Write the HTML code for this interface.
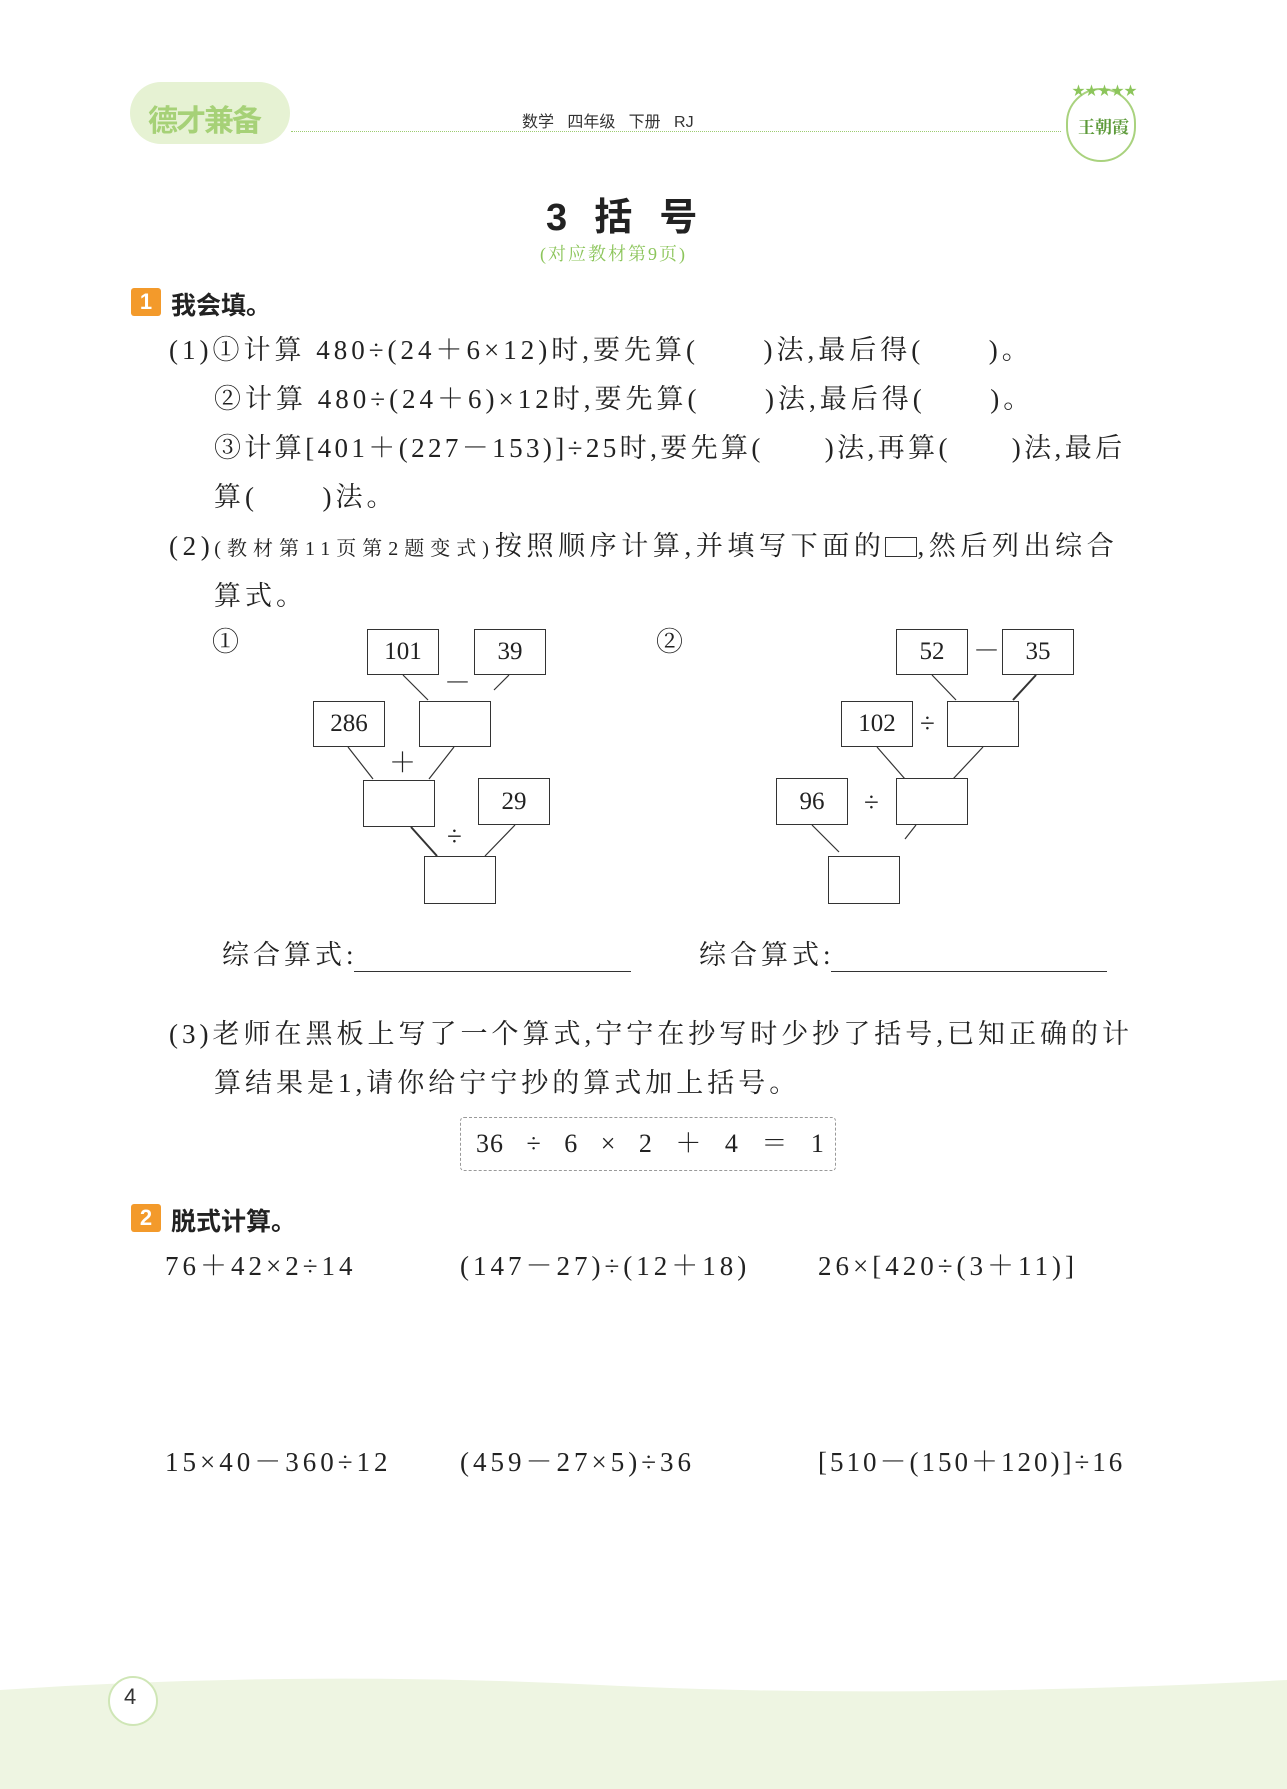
<!DOCTYPE html>
<html><head><meta charset="utf-8"><style>
body{margin:0;width:1287px;height:1789px;position:relative;background:#fff;overflow:hidden;font-family:"Liberation Serif","Noto Serif CJK SC",serif;color:#222}
.a{position:absolute;white-space:nowrap}
.t{font-size:27px;line-height:30px;letter-spacing:4px}
.box{position:absolute;border:1.3px solid #333;background:#fff;font-size:25px;text-align:center;box-sizing:border-box}
.sec{position:absolute;width:30px;height:28px;background:#f39a2b;color:#fff;font:bold 22px "Liberation Sans",sans-serif;text-align:center;line-height:28px;border-radius:3px}
.h{font-family:"Liberation Sans","Noto Sans CJK SC",sans-serif;font-weight:bold;font-size:25px}
</style></head><body>
<!-- header -->
<div class="a" style="left:130px;top:82px;width:160px;height:62px;border-radius:40px;background:#e6f2d3"></div>
<div class="a" style="left:148px;top:96px;font:bold 30px 'Noto Sans CJK SC',sans-serif;color:#a6d177;letter-spacing:-2px">德才兼备</div>
<div class="a" style="left:291px;top:131px;width:770px;border-top:1.5px dotted #9ccc70"></div>
<div class="a" style="left:522px;top:108px;font:16px 'Liberation Sans','Noto Sans CJK SC',sans-serif;color:#333">数学&nbsp;&nbsp;&nbsp;四年级&nbsp;&nbsp;&nbsp;下册&nbsp;&nbsp;&nbsp;RJ</div>
<div class="a" style="left:1066px;top:88px;width:70px;height:74px;border:2px solid #a9d27e;border-radius:35px;box-sizing:border-box"></div>
<div class="a" style="left:1072px;top:80px;font-size:13px;color:#8cc55b">★★★★★</div>
<div class="a" style="left:1078px;top:113px;font:bold 17px 'Noto Serif CJK SC',serif;color:#5d9a3a">王朝霞</div>
<!-- title -->
<div class="a" style="left:546px;top:186px;font:bold 38px 'Liberation Sans','Noto Sans CJK SC',sans-serif;letter-spacing:2px">3&nbsp;&nbsp;括&nbsp;&nbsp;号</div>
<div class="a" style="left:540px;top:240px;font-size:18px;color:#8cc55b;letter-spacing:2px">(对应教材第9页)</div>
<!-- section 1 -->
<div class="sec" style="left:131px;top:288px">1</div>
<div class="a h" style="left:171px;top:286px">我会填。</div>
<div class="a t" style="left:169px;top:335px">(1)①计算 480÷(24＋6×12)时,要先算(&nbsp;&nbsp;&nbsp;&nbsp;&nbsp;&nbsp;)法,最后得(&nbsp;&nbsp;&nbsp;&nbsp;&nbsp;&nbsp;)。</div>
<div class="a t" style="left:214px;top:384px">②计算 480÷(24＋6)×12时,要先算(&nbsp;&nbsp;&nbsp;&nbsp;&nbsp;&nbsp;)法,最后得(&nbsp;&nbsp;&nbsp;&nbsp;&nbsp;&nbsp;)。</div>
<div class="a t" style="left:214px;top:433px;letter-spacing:3.4px">③计算[401＋(227－153)]÷25时,要先算(&nbsp;&nbsp;&nbsp;&nbsp;&nbsp;&nbsp;)法,再算(&nbsp;&nbsp;&nbsp;&nbsp;&nbsp;&nbsp;)法,最后</div>
<div class="a t" style="left:214px;top:482px">算(&nbsp;&nbsp;&nbsp;&nbsp;&nbsp;&nbsp;)法。</div>
<div class="a t" style="left:169px;top:531px;letter-spacing:4.6px">(2)<span style="font-size:20px;letter-spacing:6px">(教材第11页第2题变式)</span>按照顺序计算,并填写下面的<span style="display:inline-block;width:30px;height:18px;border:1.5px solid #333;vertical-align:-2px"></span>,然后列出综合</div>
<div class="a t" style="left:214px;top:581px">算式。</div>
<!-- diagrams -->
<svg class="a" style="left:0;top:0" width="1287" height="1789">
<g stroke="#333" stroke-width="1.2" fill="none">
<line x1="403" y1="675" x2="428" y2="700"/><line x1="509" y1="675" x2="494" y2="690"/>
<line x1="348" y1="747" x2="373" y2="779"/><line x1="454" y1="747" x2="429" y2="779"/>
<line x1="411" y1="827" x2="437" y2="856" stroke-width="2"/><line x1="515" y1="825" x2="485" y2="856"/>
<line x1="932" y1="675" x2="956" y2="700"/><line x1="1036" y1="675" x2="1013" y2="700" stroke-width="2"/>
<line x1="877" y1="747" x2="905" y2="779"/><line x1="983" y1="747" x2="953" y2="779"/>
<line x1="812" y1="825" x2="839" y2="852"/><line x1="916" y1="825" x2="905" y2="839"/>
</g></svg>
<div class="a t" style="left:212px;top:627px">①</div>
<div class="a t" style="left:656px;top:627px">②</div>
<div class="box" style="left:367px;top:629px;width:72px;height:46px;line-height:44px">101</div>
<div class="box" style="left:474px;top:629px;width:72px;height:46px;line-height:44px">39</div>
<div class="a t" style="left:444px;top:668px">－</div>
<div class="box" style="left:313px;top:701px;width:72px;height:46px;line-height:44px">286</div>
<div class="box" style="left:419px;top:701px;width:72px;height:46px"></div>
<div class="a t" style="left:389px;top:748px">＋</div>
<div class="box" style="left:363px;top:780px;width:72px;height:47px"></div>
<div class="box" style="left:478px;top:778px;width:72px;height:47px;line-height:45px">29</div>
<div class="a t" style="left:447px;top:821px">÷</div>
<div class="box" style="left:424px;top:856px;width:72px;height:48px"></div>

<div class="box" style="left:896px;top:629px;width:72px;height:46px;line-height:44px">52</div>
<div class="a t" style="left:973px;top:636px">－</div>
<div class="box" style="left:1002px;top:629px;width:72px;height:46px;line-height:44px">35</div>
<div class="box" style="left:841px;top:701px;width:72px;height:46px;line-height:44px">102</div>
<div class="a t" style="left:920px;top:708px">÷</div>
<div class="box" style="left:947px;top:701px;width:72px;height:46px"></div>
<div class="box" style="left:776px;top:778px;width:72px;height:47px;line-height:45px">96</div>
<div class="a t" style="left:864px;top:787px">÷</div>
<div class="box" style="left:896px;top:778px;width:72px;height:47px"></div>
<div class="box" style="left:828px;top:856px;width:72px;height:48px"></div>

<div class="a t" style="left:222px;top:940px">综合算式:</div>
<div class="a" style="left:354px;top:971px;width:277px;border-top:1.2px solid #333"></div>
<div class="a t" style="left:699px;top:940px">综合算式:</div>
<div class="a" style="left:831px;top:971px;width:276px;border-top:1.2px solid #333"></div>

<div class="a t" style="left:169px;top:1019px">(3)老师在黑板上写了一个算式,宁宁在抄写时少抄了括号,已知正确的计</div>
<div class="a t" style="left:214px;top:1068px">算结果是1,请你给宁宁抄的算式加上括号。</div>
<div class="a" style="left:460px;top:1117px;width:376px;height:54px;border:1.2px dashed #999;border-radius:4px;box-sizing:border-box"></div>
<div class="a t" style="left:476px;top:1129px;letter-spacing:1px;font-size:26px">36&nbsp;&nbsp;&nbsp;÷&nbsp;&nbsp;&nbsp;6&nbsp;&nbsp;&nbsp;×&nbsp;&nbsp;&nbsp;2&nbsp;&nbsp;&nbsp;＋&nbsp;&nbsp;&nbsp;4&nbsp;&nbsp;&nbsp;＝&nbsp;&nbsp;&nbsp;1</div>
<!-- section 2 -->
<div class="sec" style="left:131px;top:1204px">2</div>
<div class="a h" style="left:171px;top:1202px">脱式计算。</div>
<div class="a t" style="left:165px;top:1251px">76＋42×2÷14</div>
<div class="a t" style="left:460px;top:1251px">(147－27)÷(12＋18)</div>
<div class="a t" style="left:818px;top:1251px">26×[420÷(3＋11)]</div>
<div class="a t" style="left:165px;top:1447px">15×40－360÷12</div>
<div class="a t" style="left:460px;top:1447px">(459－27×5)÷36</div>
<div class="a t" style="left:818px;top:1447px;letter-spacing:3px">[510－(150＋120)]÷16</div>
<!-- footer -->
<svg class="a" style="left:0;top:1660px" width="1287" height="129"><path d="M0 30 Q300 10 600 25 T1287 20 V129 H0Z" fill="#eef5e2"/></svg>
<div class="a" style="left:108px;top:1676px;width:50px;height:50px;border-radius:25px;background:#fff;border:2px solid #cfe6b6;box-sizing:border-box"></div>
<div class="a" style="left:124px;top:1684px;font:22px 'Liberation Sans',sans-serif;color:#333">4</div>
</body></html>
